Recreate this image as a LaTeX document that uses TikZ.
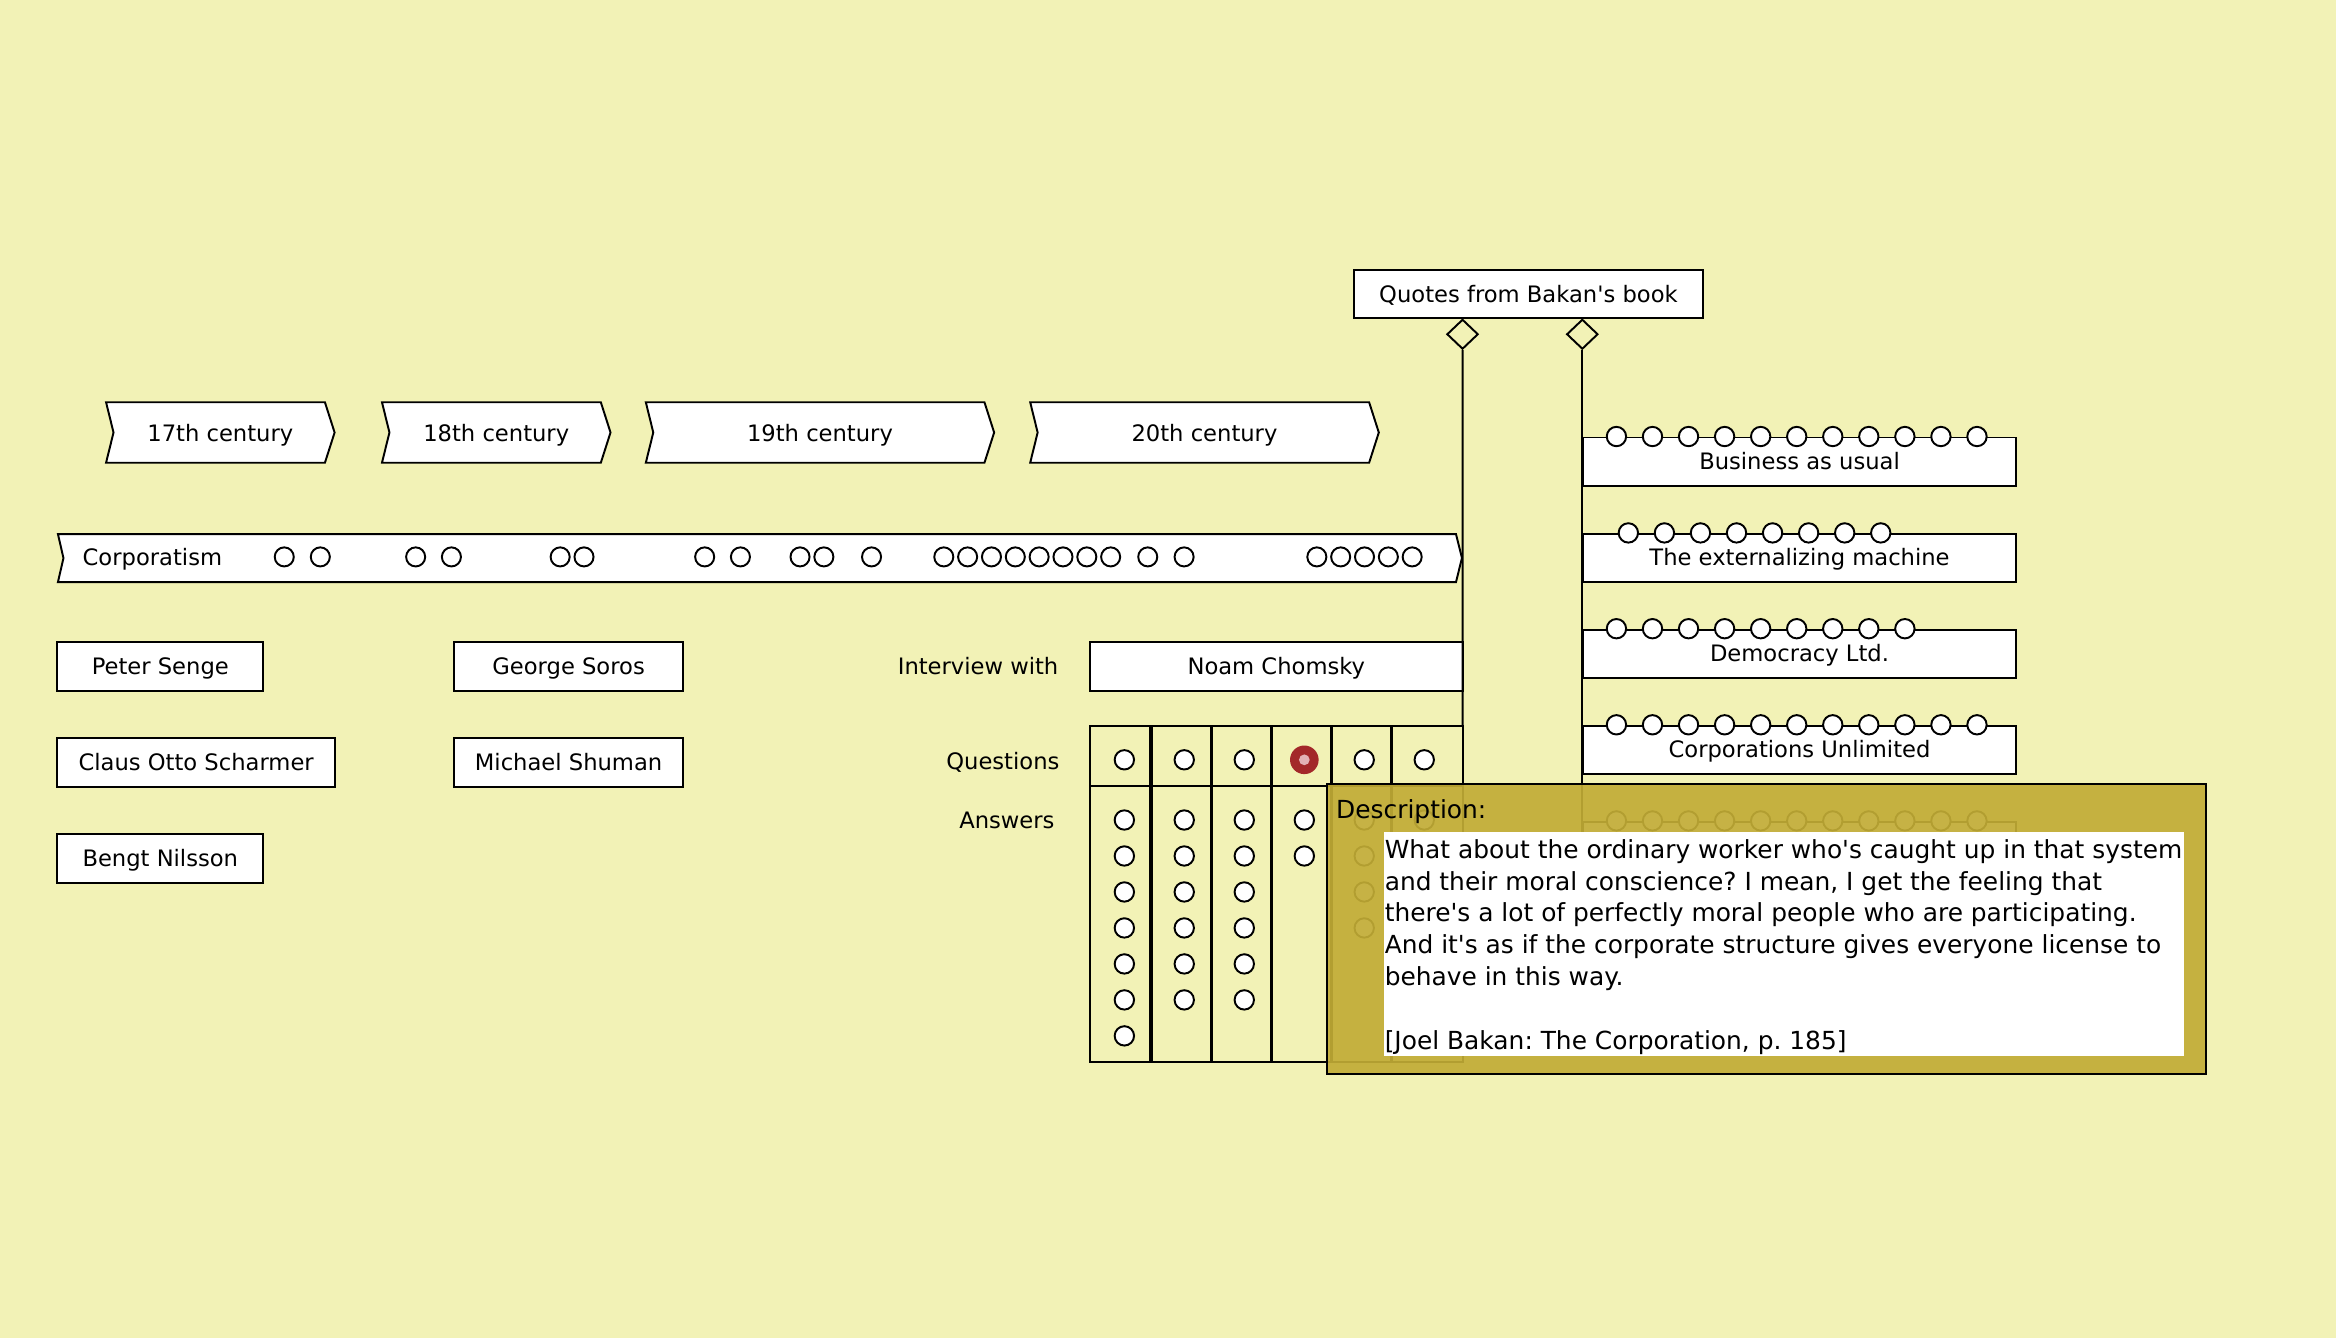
\documentclass[tikz,border=0pt]{standalone}
\usepackage{fontspec}
\setmainfont{DejaVu Sans}[Ligatures=TeXOff]
\usetikzlibrary{shapes.geometric}
\frenchspacing
\definecolor{bgc}{RGB}{242,242,182}
\definecolor{goldc}{RGB}{194,172,54}
\definecolor{redc}{RGB}{163,40,42}
\definecolor{pinkc}{RGB}{226,178,182}
\tikzset{
  edge/.style={draw=black, line width=1.3pt},
  lbox/.style={rectangle, draw=black, line width=1.3pt, fill=white, inner sep=0pt,
    font=\fontsize{15.2}{18}\selectfont, text height=12.3pt, text depth=1.7pt},
  lbl/.style={inner sep=0pt, font=\fontsize{15.2}{18}\selectfont},
  dsc/.style={inner sep=0pt, font=\fontsize{16.7}{21.4}\selectfont},
  dotc/.style={draw=black, line width=1.3pt, fill=white},
  cell/.style={rectangle, draw=black, line width=1.3pt, fill=bgc, inner sep=0pt},
  agg/.style={diamond, draw=black, line width=1.3pt, fill=bgc, inner sep=0pt,
    minimum width=21pt, minimum height=20pt},
}
\begin{document}
\begin{tikzpicture}[x=1pt,y=-1pt]
\fill[bgc] (0,0) rectangle (1568,898);
\useasboundingbox (0,0) rectangle (1568,898);

% centuries
\foreach \xa/\xb/\txt [count=\i] in {71.2/224.6/17th century, 256.4/409.8/18th century, 433.5/667.3/19th century, 691.5/925.5/20th century}{
  \draw[edge, fill=white] (\xa,270) -- ({\xb-6.5},270) -- (\xb,290.3) -- ({\xb-6.5},310.6) -- (\xa,310.6) -- ({\xa+5},290.3) -- cycle;
  \node[lbl, anchor=base] (cent\i) at ({(\xa+\xb)/2},296.2) {\txt};
}

% Corporatism bar
\draw[edge, fill=white] (38.9,358.5) -- (977.3,358.5) -- (981.3,374.6) -- (977.3,390.7) -- (38.9,390.7) -- (42.6,374.6) -- cycle;
\node[lbl, anchor=base west] (corp) at (55.3,379.8) {Corporatism};
\foreach \x in {190.8,215,279,303,376,392,473,497,537,553,585,633.5,649.5,665.5,681.5,697.5,713.5,729.5,745.5,770.4,794.8,883.9,899.9,915.9,931.9,947.9}
  \draw[dotc] (\x,373.8) circle[radius=6.4];

% people
\node[lbox, minimum width=138.2pt, minimum height=32.4pt] (senge) at (107.6,447.4) {Peter Senge};
\node[lbox, minimum width=186.3pt, minimum height=32.9pt] (scharmer) at (131.65,511.55) {Claus Otto Scharmer};
\node[lbox, minimum width=138.2pt, minimum height=32.7pt] (nilsson) at (107.6,576.15) {Bengt Nilsson};
\node[lbox, minimum width=153.7pt, minimum height=32.4pt] (soros) at (381.65,447.4) {George Soros};
\node[lbox, minimum width=153.7pt, minimum height=32.9pt] (shuman) at (381.65,511.55) {Michael Shuman};

% interview
\node[lbl, anchor=base east] (intw) at (710.6,452.8) {Interview with};
\node[lbox, minimum width=250.2pt, minimum height=32.4pt] (chomsky) at (856.7,447.4) {Noam Chomsky};
\node[lbl, anchor=base east] (qlbl) at (711.3,516.2) {Questions};
\node[lbl, anchor=base east] (albl) at (708,556.4) {Answers};

\foreach \xa/\xb/\cx/\n [count=\i] in {731.6/772.6/754.7/7, 772.6/813.3/794.9/6, 813.3/853.5/835.2/6, 853.5/893.8/875.5/2, 893.8/934.1/915.7/4, 934.1/981.8/956/1}{
  \node[cell, minimum width={\xb pt-\xa pt}, minimum height=40.3pt] (q\i) at ({(\xa+\xb)/2},507.45) {};
  \node[cell, minimum width={\xb pt-\xa pt}, minimum height=185.2pt] (ans\i) at ({(\xa+\xb)/2},620.2) {};
  \draw[dotc] (\cx,510) circle[radius=6.5];
  \foreach \k in {1,...,\n}
    \draw[dotc] (\cx,{550.4+24.15*(\k-1)}) circle[radius=6.5];
}
\foreach \x in {772.6,813.3,853.5,893.8,934.1}
  \draw[line width=2.4pt] (\x,487.3) -- (\x,712.8);
\fill[redc] (875.5,510) circle[radius=9.6];
\fill[pinkc] (875.5,510) circle[radius=3.6];

% quotes
\node[lbox, minimum width=234.3pt, minimum height=32.5pt] (quotes) at (1025.95,197.45) {Quotes from Bakan's book};
\node[agg, anchor=north] (d1) at (981.7,213.7) {};
\node[agg, anchor=north] (d2) at (1062.1,213.7) {};
\coordinate (gridtop) at (981.8,487.3);
\draw[edge] (d1.south) -- (gridtop);

\node[lbox, minimum width=290.3pt, minimum height=32.3pt, anchor=north west] (qr1) at (1062.1,293) {Business as usual};
\node[lbox, minimum width=290.3pt, minimum height=32.3pt, anchor=north west] (qr2) at (1062.1,357.7) {The externalizing machine};
\node[lbox, minimum width=290.3pt, minimum height=32.3pt, anchor=north west] (qr3) at (1062.1,422) {Democracy Ltd.};
\node[lbox, minimum width=290.3pt, minimum height=32.3pt, anchor=north west] (qr4) at (1062.1,486.5) {Corporations Unlimited};
\node[lbox, minimum width=290.3pt, minimum height=32.3pt, anchor=north west] (qr5) at (1062.1,551) {};
\draw[edge] (d2.south) -- (qr5.south west);
\foreach \k in {0,...,10} \draw[dotc] ({1085+24.2*\k},293) circle[radius=6.5];
\foreach \k in {0,...,7} \draw[dotc] ({1093+24.2*\k},357.7) circle[radius=6.5];
\foreach \k in {0,...,8} \draw[dotc] ({1085+24.2*\k},422) circle[radius=6.5];
\foreach \k in {0,...,10} \draw[dotc] ({1085+24.2*\k},486.5) circle[radius=6.5];
\foreach \k in {0,...,10} \draw[dotc] ({1085+24.2*\k},551) circle[radius=6.5];

% tooltip
\node[draw=black, line width=1.3pt, fill=goldc, fill opacity=0.92, draw opacity=1, inner sep=0pt,
  minimum width=589.5pt, minimum height=194.2pt, anchor=north west] (tip) at (890.3,525.8) {};
\node[fill=white, inner sep=0pt, minimum width=537.1pt, minimum height=150.1pt, anchor=north west] (tipbody) at (928.9,558.5) {};
\node[dsc, anchor=base west] (tiphead) at (896.7,549.2) {Description:};
\node[dsc, anchor=base west] (tl1) at (929.3,576) {What about the ordinary worker who's caught up in that system};
\node[dsc, anchor=base west] (tl2) at (929.3,597.4) {and their moral conscience? I mean, I get the feeling that};
\node[dsc, anchor=base west] (tl3) at (929.3,618.8) {there's a lot of perfectly moral people who are participating.};
\node[dsc, anchor=base west] (tl4) at (929.3,640.2) {And it's as if the corporate structure gives everyone license to};
\node[dsc, anchor=base west] (tl5) at (929.3,661.6) {behave in this way.};
\node[dsc, anchor=base west] (tl7) at (929.3,704.4) {[Joel Bakan: The Corporation, p. 185]};
\end{tikzpicture}
\end{document}
